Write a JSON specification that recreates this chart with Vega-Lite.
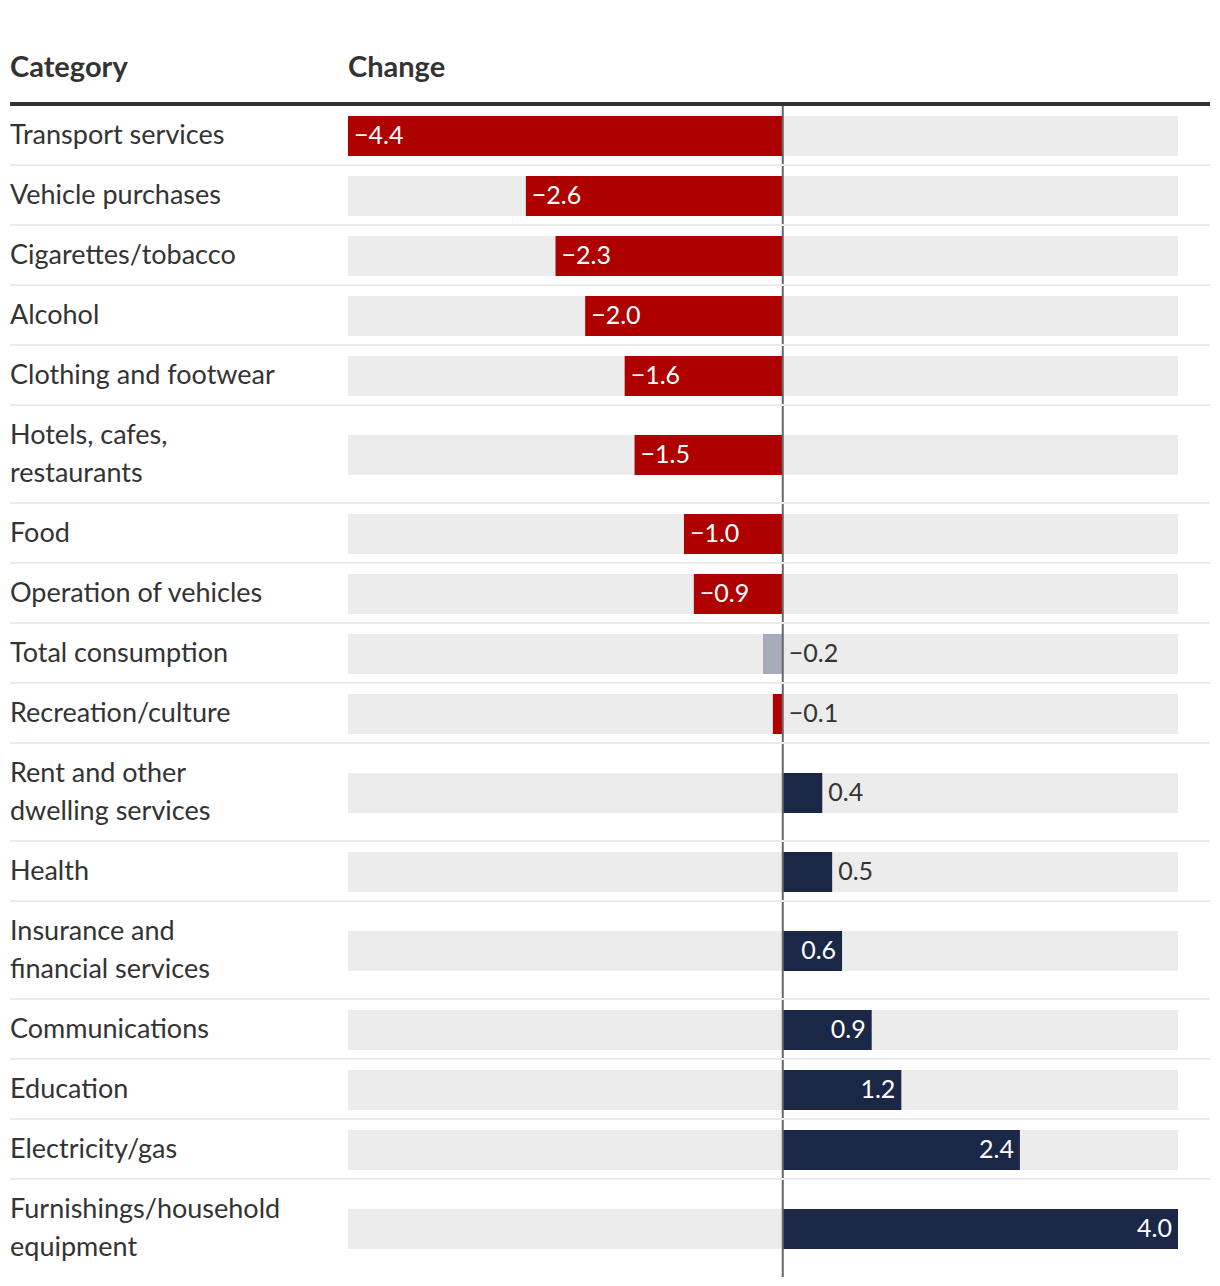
{
  "$schema": "https://vega.github.io/schema/vega-lite/v6.json",
  "width": 1200,
  "height": 1172,
  "autosize": "none",
  "padding": {"left": 10, "right": 10, "top": 105, "bottom": 9},
  "background": "white",
  "config": {"view": {"stroke": null}, "font": "Lato"},
  "data": {
    "values": [
      {"category": "Transport services", "change": -4.4, "kind": "Decrease"},
      {"category": "Vehicle purchases", "change": -2.6, "kind": "Decrease"},
      {"category": "Cigarettes/tobacco", "change": -2.3, "kind": "Decrease"},
      {"category": "Alcohol", "change": -2.0, "kind": "Decrease"},
      {"category": "Clothing and footwear", "change": -1.6, "kind": "Decrease"},
      {"category": "Hotels, cafes,\nrestaurants", "change": -1.5, "kind": "Decrease"},
      {"category": "Food", "change": -1.0, "kind": "Decrease"},
      {"category": "Operation of vehicles", "change": -0.9, "kind": "Decrease"},
      {"category": "Total consumption", "change": -0.2, "kind": "Total"},
      {"category": "Recreation/culture", "change": -0.1, "kind": "Decrease"},
      {"category": "Rent and other\ndwelling services", "change": 0.4, "kind": "Increase"},
      {"category": "Health", "change": 0.5, "kind": "Increase"},
      {"category": "Insurance and\nfinancial services", "change": 0.6, "kind": "Increase"},
      {"category": "Communications", "change": 0.9, "kind": "Increase"},
      {"category": "Education", "change": 1.2, "kind": "Increase"},
      {"category": "Electricity/gas", "change": 2.4, "kind": "Increase"},
      {"category": "Furnishings/household\nequipment", "change": 4.0, "kind": "Increase"}
    ]
  },
  "transform": [
    {"calculate": "length(split(datum.category, '\\n'))", "as": "lines"},
    {"calculate": "22 + 38 * datum.lines", "as": "rowH"},
    {"window": [{"op": "sum", "field": "rowH", "as": "rowBottom"}], "frame": [null, 0]},
    {"calculate": "datum.rowBottom - datum.rowH / 2", "as": "rowMid"},
    {"calculate": "datum.rowMid - 19 * (datum.lines - 1)", "as": "labelY"},
    {"calculate": "datum.rowMid - 19", "as": "barTop"},
    {"calculate": "datum.rowMid + 21", "as": "barBottom"},
    {"joinaggregate": [{"op": "max", "field": "rowBottom", "as": "lastBottom"}]},
    {"calculate": "abs(datum.change) >= 0.6", "as": "inside"},
    {"calculate": "datum.inside ? datum.change : max(datum.change, 0)", "as": "labelX"}
  ],
  "layer": [
    {
      "mark": {"type": "rect", "color": "#ececec"},
      "encoding": {
        "x": {"datum": -4.4, "type": "quantitative", "scale": {"domain": [-7.82072, 4.32386], "nice": false, "zero": false}, "axis": null},
        "x2": {"datum": 4.0},
        "y": {"field": "barTop", "type": "quantitative", "scale": {"domain": [0, 1172], "reverse": true, "nice": false, "zero": false}, "axis": null},
        "y2": {"field": "barBottom"}
      }
    },
    {
      "mark": {"type": "rect"},
      "encoding": {
        "x": {"field": "change", "type": "quantitative"},
        "x2": {"datum": 0},
        "y": {"field": "barTop", "type": "quantitative"},
        "y2": {"field": "barBottom"},
        "color": {"field": "kind", "type": "nominal", "scale": {"domain": ["Decrease", "Increase", "Total"], "range": ["#af0000", "#1b2746", "#a6acb9"]}, "legend": null}
      }
    },
    {
      "data": {"values": [{}]},
      "mark": {"type": "rule", "color": "#666666", "strokeWidth": 2},
      "encoding": {"x": {"datum": 0, "type": "quantitative"}}
    },
    {
      "transform": [{"filter": "datum.rowBottom < datum.lastBottom"}],
      "mark": {"type": "rule", "color": "#ebebeb", "strokeWidth": 2},
      "encoding": {"y": {"field": "rowBottom", "type": "quantitative"}}
    },
    {
      "data": {"values": [{}]},
      "mark": {"type": "rule", "color": "#333333", "strokeWidth": 4},
      "encoding": {"y": {"datum": -1, "type": "quantitative"}}
    },
    {
      "mark": {"type": "text", "align": "left", "baseline": "middle", "lineBreak": "\n", "lineHeight": 38, "fontSize": 27, "dy": 1, "color": "#333333"},
      "encoding": {
        "x": {"datum": -7.82072, "type": "quantitative"},
        "y": {"field": "labelY", "type": "quantitative"},
        "text": {"field": "category", "type": "nominal"}
      }
    },
    {
      "transform": [{"filter": "!datum.inside || datum.change < 0"}],
      "mark": {"type": "text", "align": "left", "baseline": "middle", "dx": 6, "dy": 1, "fontSize": 25},
      "encoding": {
        "x": {"field": "labelX", "type": "quantitative"},
        "y": {"field": "rowMid", "type": "quantitative"},
        "text": {"field": "change", "type": "quantitative", "format": ".1f"},
        "color": {"condition": {"test": "datum.inside", "value": "white"}, "value": "#333333"}
      }
    },
    {
      "transform": [{"filter": "datum.inside && datum.change > 0"}],
      "mark": {"type": "text", "align": "right", "baseline": "middle", "dx": -6, "dy": 1, "fontSize": 25, "color": "white"},
      "encoding": {
        "x": {"field": "change", "type": "quantitative"},
        "y": {"field": "rowMid", "type": "quantitative"},
        "text": {"field": "change", "type": "quantitative", "format": ".1f"}
      }
    },
    {
      "data": {"values": [{}]},
      "mark": {"type": "text", "align": "left", "baseline": "alphabetic", "fontSize": 29, "fontWeight": "bold", "color": "#333333", "text": "Category"},
      "encoding": {
        "x": {"datum": -7.82072, "type": "quantitative"},
        "y": {"datum": -28, "type": "quantitative"}
      }
    },
    {
      "data": {"values": [{}]},
      "mark": {"type": "text", "align": "left", "baseline": "alphabetic", "fontSize": 29, "fontWeight": "bold", "color": "#333333", "text": "Change"},
      "encoding": {
        "x": {"datum": -4.4, "type": "quantitative"},
        "y": {"datum": -28, "type": "quantitative"}
      }
    }
  ]
}
